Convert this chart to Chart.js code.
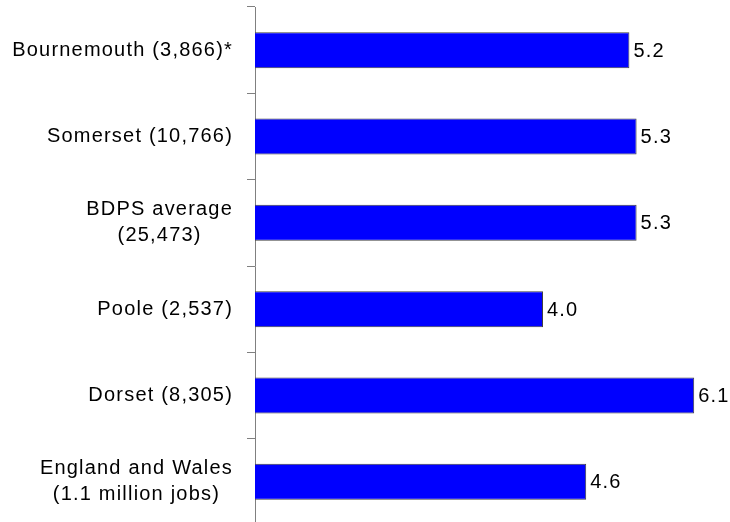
<!DOCTYPE html>
<html>
<head>
<meta charset="utf-8">
<script src="https://cdn.jsdelivr.net/npm/chart.js@4/dist/chart.umd.min.js"></script>
<style>
  html, body { margin: 0; padding: 0; background: #fff; overflow: hidden; }
  #wrap { width: 730px; height: 528px; }
</style>
</head>
<body>
<div id="wrap"><canvas id="c" width="730" height="528"></canvas></div>
<script>
// Areas (with job counts) and their values
const categories = [
  ['Bournemouth (3,866)*'],
  ['Somerset (10,766)'],
  ['BDPS average', '(25,473)'],
  ['Poole (2,537)'],
  ['Dorset (8,305)'],
  ['England and Wales', '(1.1 million jobs)']
];
const values = [5.2, 5.3, 5.3, 4.0, 6.1, 4.6];

const FONT = '20px "Liberation Sans", Arial, sans-serif';
const SPACING = '1.2px';

// Category labels: block right-aligned to the axis, lines centred within the block
const categoryLabels = {
  id: 'categoryLabels',
  afterDraw(chart) {
    const y = chart.scales.y;
    const ctx = chart.ctx;
    ctx.save();
    ctx.font = FONT;
    ctx.letterSpacing = SPACING;
    ctx.fillStyle = '#000';
    ctx.textAlign = 'center';
    ctx.textBaseline = 'middle';
    const lineH = 26;
    const right = y.right - 22;
    categories.forEach((lines, i) => {
      const cy = y.getPixelForValue(i);
      const w = Math.max(...lines.map(l => ctx.measureText(l).width));
      const cx = right - w / 2;
      const top = cy - (lines.length - 1) * lineH / 2;
      lines.forEach((l, k) => ctx.fillText(l, cx, top + k * lineH));
    });
    ctx.restore();
  }
};

// Value labels at the end of each bar
const valueLabels = {
  id: 'valueLabels',
  afterDatasetsDraw(chart) {
    const ctx = chart.ctx;
    const meta = chart.getDatasetMeta(0);
    ctx.save();
    ctx.font = FONT;
    ctx.letterSpacing = SPACING;
    ctx.fillStyle = '#000';
    ctx.textAlign = 'left';
    ctx.textBaseline = 'middle';
    meta.data.forEach((bar, i) => {
      ctx.fillText(values[i].toFixed(1), bar.x + 4, bar.y + 1);
    });
    ctx.restore();
  }
};

new Chart(document.getElementById('c'), {
  type: 'bar',
  data: {
    labels: categories,
    datasets: [{
      data: values,
      backgroundColor: '#0000FF',
      borderColor: '#404040',
      borderWidth: 1,
      barPercentage: 0.417,
      categoryPercentage: 1
    }]
  },
  options: {
    indexAxis: 'y',
    responsive: false,
    animation: false,
    layout: { padding: { left: 0, right: 7, top: 7, bottom: 3 } },
    plugins: { legend: { display: false }, tooltip: { enabled: false } },
    scales: {
      x: { display: false, min: 0, max: 6.5 },
      y: {
        offset: true,
        afterFit(scale) { scale.width = 255; },
        ticks: { display: false },
        grid: {
          offset: true,
          drawOnChartArea: false,
          drawTicks: true,
          tickLength: 8,
          color: '#808080',
          lineWidth: 1
        },
        border: { display: true, color: '#808080', width: 1 }
      }
    }
  },
  plugins: [categoryLabels, valueLabels]
});
</script>
</body>
</html>
